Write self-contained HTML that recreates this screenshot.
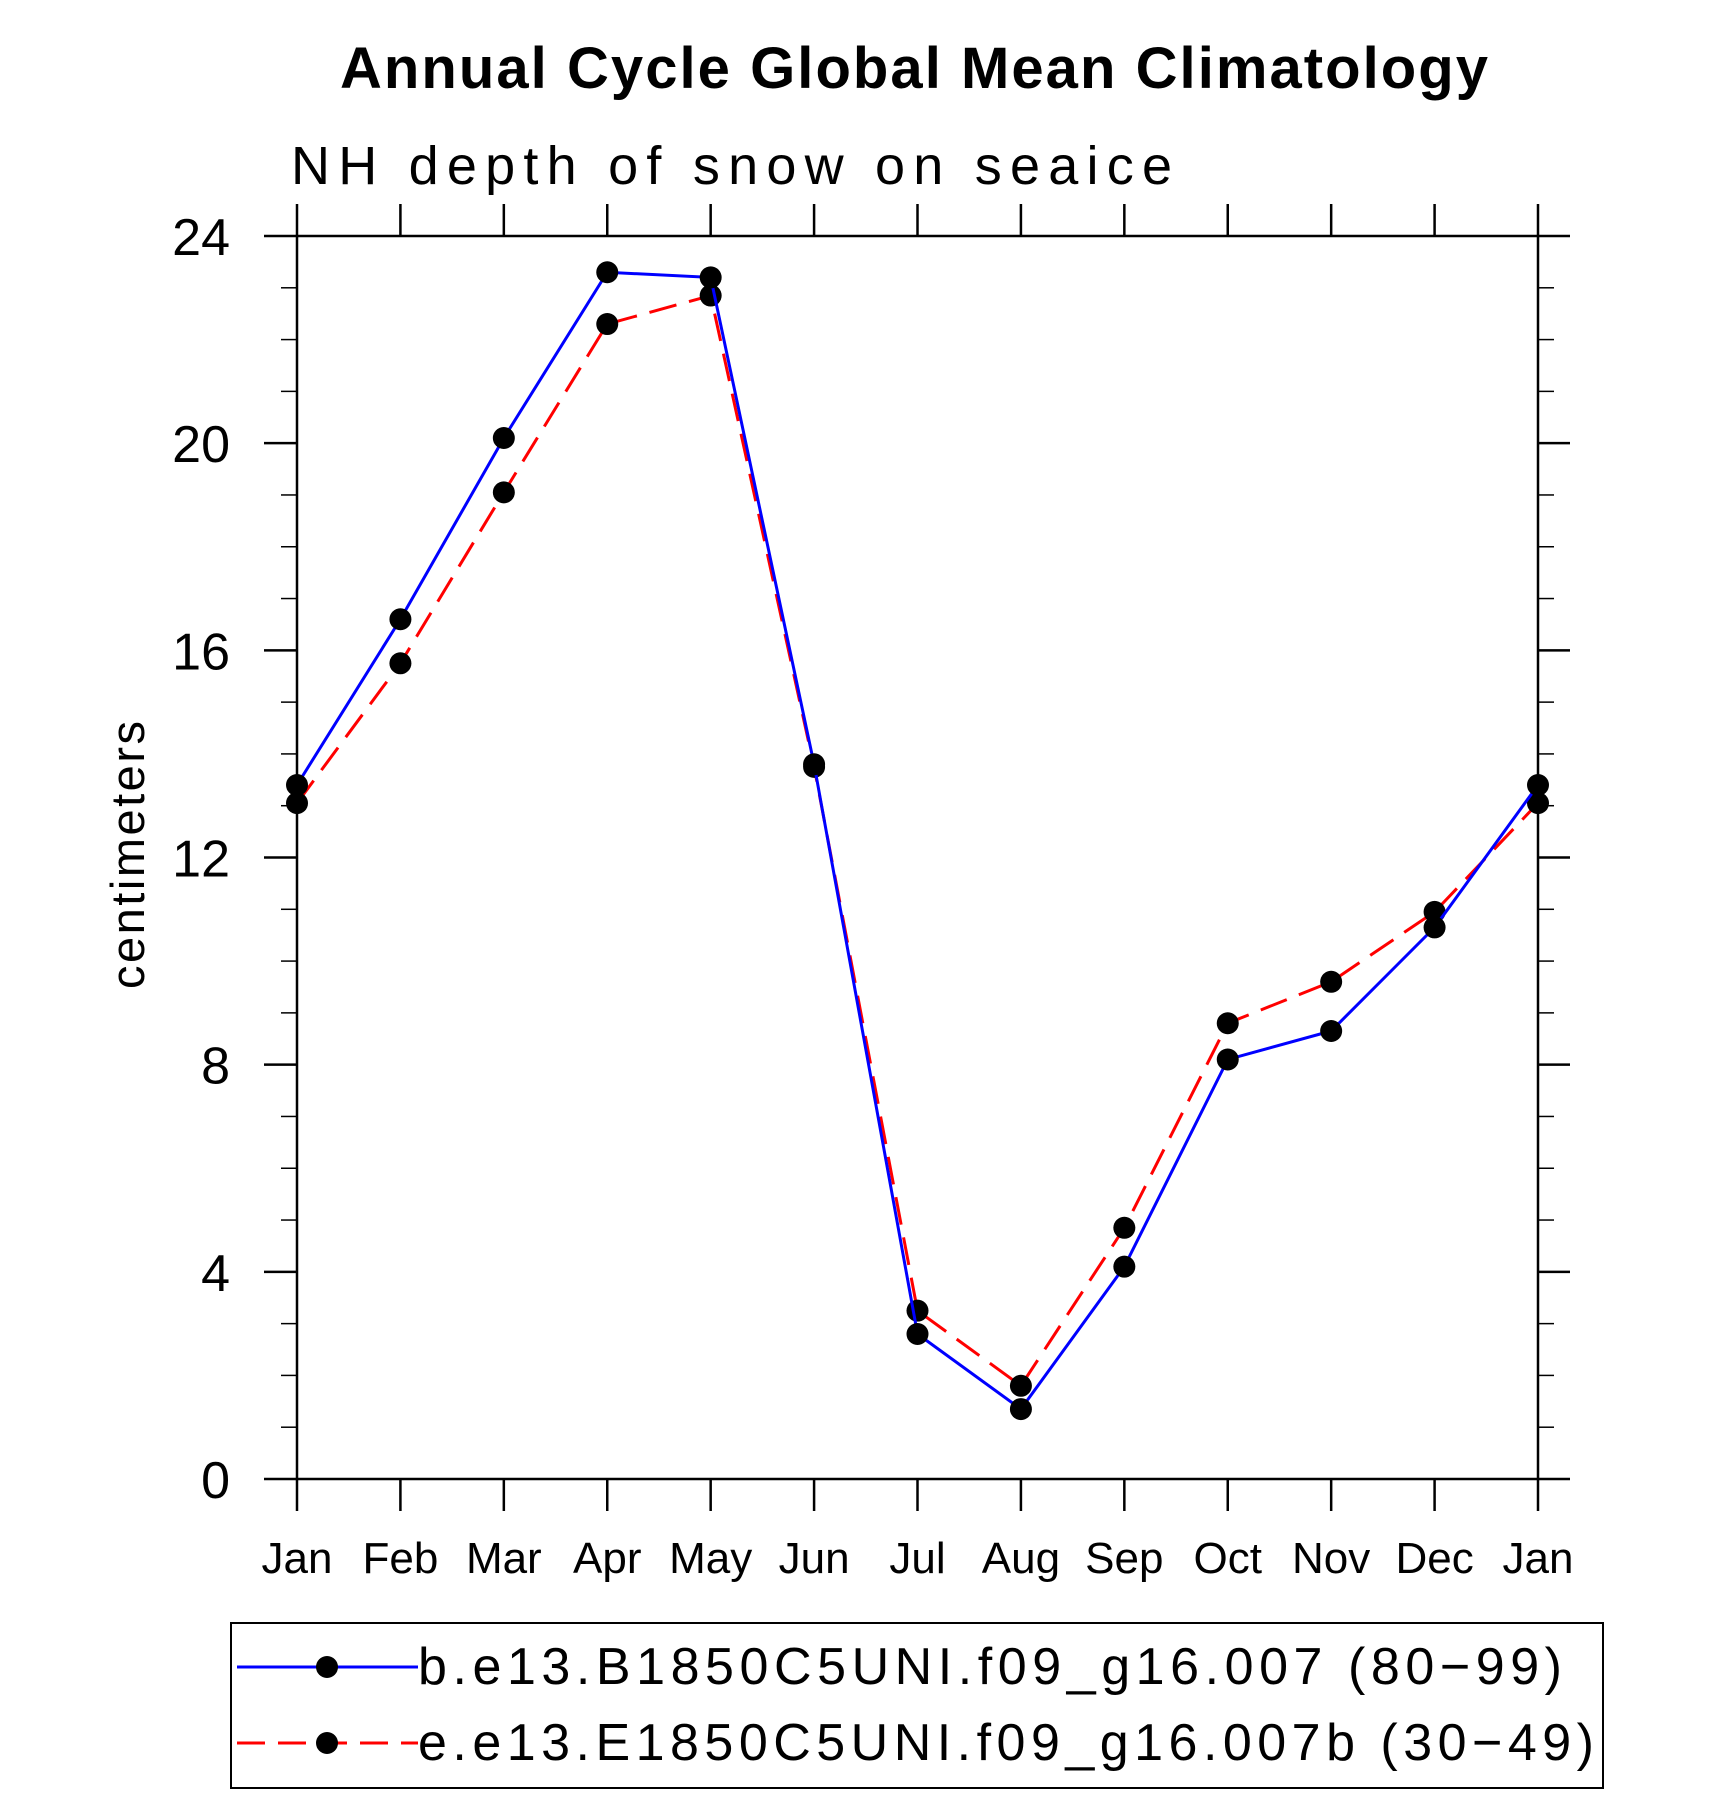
<!DOCTYPE html>
<html><head><meta charset="utf-8"><style>
html,body{margin:0;padding:0;background:#fff;}
svg{display:block;font-family:"Liberation Sans",sans-serif;}
</style></head><body>
<svg id="chart" width="1710" height="1795" viewBox="0 0 1710 1795">
<text x="914" y="88" font-size="58" font-weight="bold" text-anchor="middle" textLength="1148">Annual Cycle Global Mean Climatology</text>
<text x="291" y="184" font-size="54" font-weight="normal" textLength="887" letter-spacing="6">NH depth of snow on seaice</text>
<text transform="translate(144,855) rotate(-90)" font-size="47" text-anchor="middle" textLength="268">centimeters</text>
<g id="axes"></g>
<g id="series"></g>
<g>
<rect x="231" y="1623" width="1372" height="165" fill="none" stroke="#000" stroke-width="2"/>
<g>
<line x1="237" y1="1667" x2="418" y2="1667" stroke="#0000ff" stroke-width="3"/>
<circle cx="327" cy="1667" r="11" fill="#000"/>
<text x="418" y="1684" font-size="52" textLength="1144">b.e13.B1850C5UNI.f09_g16.007 (80−99)</text>
</g>
<g>
<line x1="237" y1="1743" x2="418" y2="1743" stroke="#ff0000" stroke-width="3" stroke-dasharray="28,13"/>
<circle cx="327" cy="1743" r="11" fill="#000"/>
<text x="418" y="1760" font-size="52" textLength="1176">e.e13.E1850C5UNI.f09_g16.007b (30−49)</text>
</g>
</g>
</svg>
<script>
const months = ["Jan","Feb","Mar","Apr","May","Jun","Jul","Aug","Sep","Oct","Nov","Dec","Jan"];
const blueValues = [13.4,16.6,20.1,23.3,23.2,13.8,2.8,1.35,4.1,8.1,8.65,10.65,13.4];
const redValues = [13.05,15.75,19.05,22.3,22.85,13.75,3.25,1.8,4.85,8.8,9.6,10.95,13.05];
const yTicks = [0,4,8,12,16,20,24];

const NS="http://www.w3.org/2000/svg";
const L=297,R=1538,T=236,B=1479,YMAX=24;
const xs=i=>L+(R-L)*i/(months.length-1);
const ys=v=>B-(B-T)*v/YMAX;
function mk(tag,attrs,parent){const e=document.createElementNS(NS,tag);for(const k in attrs)e.setAttribute(k,attrs[k]);parent.appendChild(e);return e;}
const ax=document.getElementById('axes');
const frame=mk('rect',{x:L,y:T,width:R-L,height:B-T,fill:'none',stroke:'#000','stroke-width':2.5},ax);


months.forEach((m,i)=>{
  const x=xs(i);
  mk('line',{x1:x,y1:B,x2:x,y2:B+32,stroke:'#000','stroke-width':2.5},ax);
  mk('line',{x1:x,y1:T,x2:x,y2:T-32,stroke:'#000','stroke-width':2.5},ax);
  const t=mk('text',{x:x,y:1573,'font-size':44,'text-anchor':'middle'},ax);
  t.textContent=m;
  
  
});
for(let v=0;v<=YMAX;v+=1){
  const y=ys(v);const major=(v%4===0);
  if(!major){
    mk('line',{x1:L-16,y1:y,x2:L,y2:y,stroke:'#000','stroke-width':1.5},ax);
    mk('line',{x1:R,y1:y,x2:R+16,y2:y,stroke:'#000','stroke-width':1.5},ax);
  }
}
yTicks.forEach(v=>{
  const y=ys(v);
  mk('line',{x1:L-33,y1:y,x2:L,y2:y,stroke:'#000','stroke-width':2.5},ax);
  mk('line',{x1:R,y1:y,x2:R+32,y2:y,stroke:'#000','stroke-width':2.5},ax);
  const t=mk('text',{x:230,y:y+19,'font-size':52,'text-anchor':'end'},ax);
  t.textContent=String(v);
  
  
});
const sg=document.getElementById('series');
function drawSeries(vals,color,dash,name){
  const g=mk('g',{},sg);
  
  
  const pts=vals.map((v,i)=>xs(i)+','+ys(v)).join(' ');
  const pl=mk('polyline',{points:pts,fill:'none',stroke:color,'stroke-width':3,'stroke-dasharray':dash},g);
  
  
  vals.forEach((v,i)=>{
    const c=mk('circle',{cx:xs(i),cy:ys(v),r:11,fill:'#000'},g);
    
    
  });
}
drawSeries(redValues,'#ff0000','28,13','series-red');
drawSeries(blueValues,'#0000ff','none','series-blue');
</script>
</body></html>
